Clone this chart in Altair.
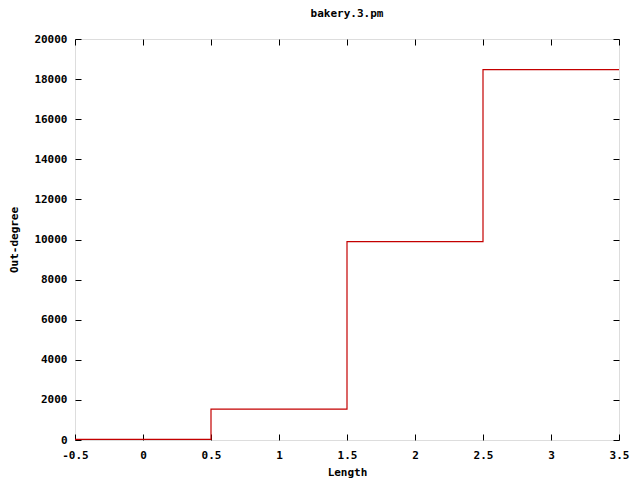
import altair as alt
import pandas as pd

lengths = [0, 1, 2, 3]
out_degree = [30, 1540, 9890, 18470]
x_ticks = [-0.5, 0, 0.5, 1, 1.5, 2, 2.5, 3, 3.5]
y_ticks = list(range(0, 20001, 2000))

# histogram-step edges derived from the bins (gnuplot "histeps")
edges = [l - 0.5 for l in lengths] + [lengths[-1] + 0.5]
vals = out_degree + [out_degree[-1]]
df = pd.DataFrame({"x": edges, "y": vals})

W, H = 544, 401
FONT = "DejaVu Sans Mono"
RED = "#c40000"

xs = alt.Scale(domain=[-0.5, 3.5], nice=False, zero=False)
ys = alt.Scale(domain=[0, 20000], nice=False)

base = alt.Chart(df)

def tick_axis(orient, offset, vals):
    return alt.Axis(orient=orient, offset=offset, values=vals, labels=False, domain=False,
                    grid=False, tickSize=6, tickColor="black", tickWidth=1, title=None)

main = base.mark_line(interpolate="step-after", color=RED, strokeWidth=1.2).encode(
    x=alt.X("x:Q", scale=xs, title="Length",
            axis=alt.Axis(values=x_ticks, tickSize=0, labelPadding=9, domain=False,
                          labelExpr="datum.value + ''", labelFont=FONT, labelFontSize=11,
                          labelFontWeight="bold", labelColor="black", titleFont=FONT,
                          titleFontSize=11, titleFontWeight="bold", titleColor="black",
                          titlePadding=6, grid=False, labelFlush=False)),
    y=alt.Y("y:Q", scale=ys, title="Out-degree",
            axis=alt.Axis(values=y_ticks, tickSize=0, labelPadding=8, domain=False,
                          labelExpr="datum.value + ''", labelFont=FONT, labelFontSize=11,
                          labelFontWeight="bold", labelColor="black", titleFont=FONT,
                          titleFontSize=11, titleFontWeight="bold", titleColor="black",
                          titlePadding=14, grid=False)),
)

ticks1 = base.mark_line(opacity=0).encode(
    x=alt.X("x:Q", scale=xs, axis=tick_axis("top", -H, x_ticks)),
    y=alt.Y("y:Q", scale=ys, axis=tick_axis("right", -W, y_ticks)),
)
ticks2 = base.mark_line(opacity=0).encode(
    x=alt.X("x:Q", scale=xs, axis=tick_axis("bottom", -H, x_ticks)),
    y=alt.Y("y:Q", scale=ys, axis=tick_axis("left", -W, y_ticks)),
)

chart = alt.layer(main, ticks1, ticks2).resolve_axis(x="independent", y="independent").properties(
    width=W, height=H,
    title=alt.TitleParams("bakery.3.pm", font=FONT, fontSize=11, fontWeight="bold",
                          color="black", anchor="middle", offset=14),
    autosize=alt.AutoSizeParams(type="none"),
    padding={"left": 67, "top": 31, "right": 13, "bottom": 40},
).configure_view(stroke="black", strokeWidth=1).configure(background="white")

chart.save("out.html", embed_options={"renderer": "svg", "actions": False})
